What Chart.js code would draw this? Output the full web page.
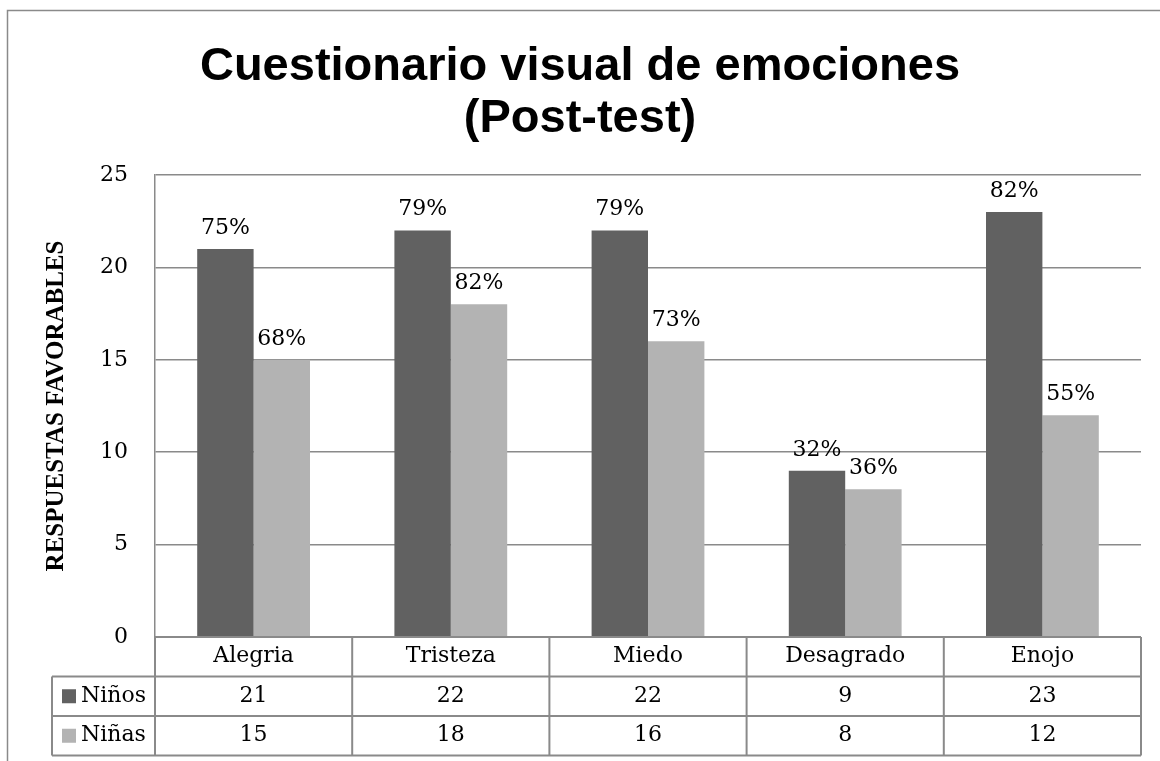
<!DOCTYPE html>
<html>
<head>
<meta charset="utf-8">
<script src="https://cdn.jsdelivr.net/npm/chart.js@4.4.1/dist/chart.umd.min.js"></script>
<style>
  html, body { margin: 0; padding: 0; background: #fff; }
</style>
</head>
<body>
<canvas id="chart" width="1160" height="761"></canvas>
<script>
// data
const categories = ['Alegria', 'Tristeza', 'Miedo', 'Desagrado', 'Enojo'];
const seriesNames = ['Niños', 'Niñas'];
const ninos = [21, 22, 22, 9, 23];
const ninas = [15, 18, 16, 8, 12];
const ninosPct = ['75%', '79%', '79%', '32%', '82%'];
const ninasPct = ['68%', '82%', '73%', '36%', '55%'];
const titleLines = ['Cuestionario visual de emociones', '(Post-test)'];
const yTitle = 'RESPUESTAS FAVORABLES';

const darkGray = '#616161';
const lightGray = '#b3b3b3';
const lineGray = '#8a8a8a';
const serif = '"DejaVu Serif", serif';

// white page, outer frame and the two-line title
const framePlugin = {
    id: 'frame',
    beforeDraw(chart) {
        const ctx = chart.ctx;
        ctx.save();
        ctx.fillStyle = '#fff';
        ctx.fillRect(0, 0, chart.width, chart.height);
        ctx.strokeStyle = lineGray;
        ctx.lineWidth = 1.5;
        ctx.beginPath();
        ctx.moveTo(7.5, chart.height);
        ctx.lineTo(7.5, 10.5);
        ctx.lineTo(chart.width, 10.5);
        ctx.stroke();
        ctx.fillStyle = '#000';
        ctx.font = 'bold 47px "Liberation Sans", Arial, sans-serif';
        ctx.textAlign = 'center';
        ctx.textBaseline = 'alphabetic';
        ctx.fillText(titleLines[0], chart.width / 2, 80);
        ctx.fillText(titleLines[1], chart.width / 2, 132);
        ctx.restore();
    }
};

// percentage labels above the bars
const pctPlugin = {
    id: 'pct',
    afterDatasetsDraw(chart) {
        const ctx = chart.ctx;
        const labels = [ninosPct, ninasPct];
        ctx.save();
        ctx.font = '22px ' + serif;
        ctx.fillStyle = '#000';
        ctx.textAlign = 'center';
        ctx.textBaseline = 'alphabetic';
        chart.data.datasets.forEach((ds, d) => {
            chart.getDatasetMeta(d).data.forEach((bar, i) => {
                ctx.fillText(labels[d][i], bar.x, bar.y - 15);
            });
        });
        ctx.restore();
    }
};

// data table under the plot
const tablePlugin = {
    id: 'dataTable',
    afterDraw(chart) {
        const ctx = chart.ctx;
        const area = chart.chartArea;
        const x = chart.scales.x;
        const rowH = 39.5;
        const y0 = area.bottom;
        const rows = [y0, y0 + rowH, y0 + 2 * rowH, y0 + 3 * rowH];
        const legendLeft = 52;
        const catW = (area.right - area.left) / categories.length;

        ctx.save();
        ctx.strokeStyle = lineGray;
        ctx.lineWidth = 2;
        ctx.beginPath();
        ctx.moveTo(area.left, rows[0]);
        ctx.lineTo(area.right, rows[0]);
        for (let r = 1; r < rows.length; r++) {
            ctx.moveTo(legendLeft, rows[r]);
            ctx.lineTo(area.right, rows[r]);
        }
        for (let i = 0; i <= categories.length; i++) {
            const bx = area.left + i * catW;
            ctx.moveTo(bx, rows[0]);
            ctx.lineTo(bx, rows[3]);
        }
        ctx.moveTo(legendLeft, rows[1]);
        ctx.lineTo(legendLeft, rows[3]);
        ctx.stroke();

        ctx.fillStyle = '#000';
        ctx.font = '22px ' + serif;
        ctx.textAlign = 'center';
        ctx.textBaseline = 'middle';
        const values = [ninos, ninas];
        categories.forEach((c, i) => {
            const cx = x.getPixelForValue(i);
            ctx.fillText(c, cx, (rows[0] + rows[1]) / 2);
            ctx.fillText(String(values[0][i]), cx, (rows[1] + rows[2]) / 2);
            ctx.fillText(String(values[1][i]), cx, (rows[2] + rows[3]) / 2);
        });

        const keyColors = [darkGray, lightGray];
        seriesNames.forEach((name, s) => {
            const cy = (rows[s + 1] + rows[s + 2]) / 2;
            ctx.fillStyle = keyColors[s];
            ctx.fillRect(62, cy - 7, 14, 14);
            ctx.fillStyle = '#000';
            ctx.textAlign = 'left';
            ctx.fillText(name, 81, cy);
        });
        ctx.restore();
    }
};

new Chart(document.getElementById('chart'), {
    type: 'bar',
    data: {
        labels: categories,
        datasets: [
            { label: seriesNames[0], data: ninos, backgroundColor: darkGray },
            { label: seriesNames[1], data: ninas, backgroundColor: lightGray }
        ]
    },
    options: {
        responsive: false,
        animation: false,
        categoryPercentage: 0.572,
        barPercentage: 1.0,
        layout: {
            autoPadding: false,
            padding: { top: 175, right: 19, bottom: 124, left: 0 }
        },
        plugins: {
            legend: { display: false },
            title: { display: false },
            tooltip: { enabled: false }
        },
        scales: {
            x: { display: false },
            y: {
                min: 0,
                max: 25,
                afterFit(scale) { scale.width = 155; },
                ticks: {
                    stepSize: 5,
                    padding: 27,
                    color: '#000',
                    font: { family: serif, size: 22 }
                },
                grid: { color: lineGray, lineWidth: 1.5, drawTicks: false },
                border: { display: true, color: lineGray, width: 1.5 },
                title: {
                    display: true,
                    text: yTitle,
                    color: '#000',
                    font: { family: '"Liberation Serif", serif', size: 25, weight: 'bold', lineHeight: 1.2 },
                    padding: { top: 42, bottom: 0 }
                }
            }
        }
    },
    plugins: [framePlugin, pctPlugin, tablePlugin]
});
</script>
</body>
</html>
